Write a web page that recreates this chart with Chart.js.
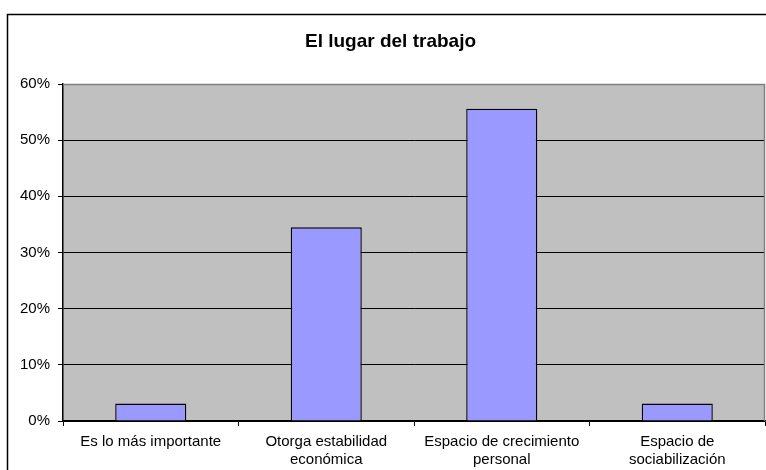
<!DOCTYPE html>
<html>
<head>
<meta charset="utf-8">
<script src="https://cdn.jsdelivr.net/npm/chart.js@4/dist/chart.umd.min.js"></script>
<style>
html,body{margin:0;padding:0;background:#fff;}
#wrap{width:766px;height:470px;position:relative;}
</style>
</head>
<body>
<div id="wrap"><canvas id="c" width="766" height="470"></canvas></div>
<script>
const title = "El lugar del trabajo";
const categories = [
  ["Es lo más importante"],
  ["Otorga estabilidad", "económica"],
  ["Espacio de crecimiento", "personal"],
  ["Espacio de", "sociabilización"]
];
const values = [3.1, 34.5, 55.6, 3.1];
const yTicks = [0, 10, 20, 30, 40, 50, 60];

const FONT = "'Liberation Sans', Arial, sans-serif";

const bgPlugin = {
  id: 'bg',
  beforeDraw(chart) {
    const ctx = chart.ctx, a = chart.chartArea;
    ctx.save();
    ctx.fillStyle = '#fff';
    ctx.fillRect(0, 0, chart.width, chart.height);
    ctx.strokeStyle = '#000';
    ctx.lineWidth = 1.5;
    ctx.strokeRect(7.5, 14.5, 800, 500);
    ctx.fillStyle = '#C0C0C0';
    ctx.fillRect(a.left, a.top, a.right - a.left, a.bottom - a.top);
    ctx.restore();
  },
  afterDatasetsDraw(chart) {
    const ctx = chart.ctx, a = chart.chartArea;
    ctx.save();
    ctx.strokeStyle = '#808080';
    ctx.lineWidth = 1.5;
    ctx.beginPath();
    ctx.moveTo(a.left, a.top + 0.5);
    ctx.lineTo(a.right - 0.5, a.top + 0.5);
    ctx.lineTo(a.right - 0.5, a.bottom);
    ctx.stroke();
    ctx.restore();
  }
};

new Chart(document.getElementById('c'), {
  type: 'bar',
  data: {
    labels: categories,
    datasets: [{
      data: values,
      backgroundColor: '#9999FF',
      borderColor: '#000',
      borderWidth: 1.4,
      barPercentage: 1,
      categoryPercentage: 0.405
    }]
  },
  options: {
    responsive: false,
    animation: false,
    devicePixelRatio: 1,
    layout: { padding: { left: 16, right: 1, top: 0, bottom: 0 } },
    plugins: {
      legend: { display: false },
      tooltip: { enabled: false },
      title: {
        display: true,
        text: title,
        color: '#000',
        font: { family: FONT, size: 19, weight: 'bold', lineHeight: 1.2 },
        padding: { top: 30.6, bottom: 30.6 }
      }
    },
    scales: {
      x: {
        offset: true,
        grid: {
          offset: true,
          drawOnChartArea: false,
          drawTicks: true,
          tickLength: 5,
          color: '#000',
          lineWidth: 1
        },
        border: { display: true, color: '#000', width: 1.5 },
        ticks: {
          color: '#000',
          padding: 7,
          maxRotation: 0,
          autoSkip: false,
          font: { family: FONT, size: 15, lineHeight: 1.2 }
        },
        afterFit(s) { s.height = 49; }
      },
      y: {
        min: 0,
        max: 60,
        afterBuildTicks(s) { s.ticks = yTicks.map(v => ({ value: v })); },
        grid: {
          color: '#000',
          lineWidth: 1,
          tickLength: 5,
          tickColor: '#000'
        },
        border: { display: true, color: '#000', width: 1.5 },
        ticks: {
          color: '#000',
          padding: 8,
          font: { family: FONT, size: 15 },
          callback: v => v + '%'
        },
        afterFit(s) { s.width = 47; }
      }
    }
  },
  plugins: [bgPlugin]
});
</script>
</body>
</html>
